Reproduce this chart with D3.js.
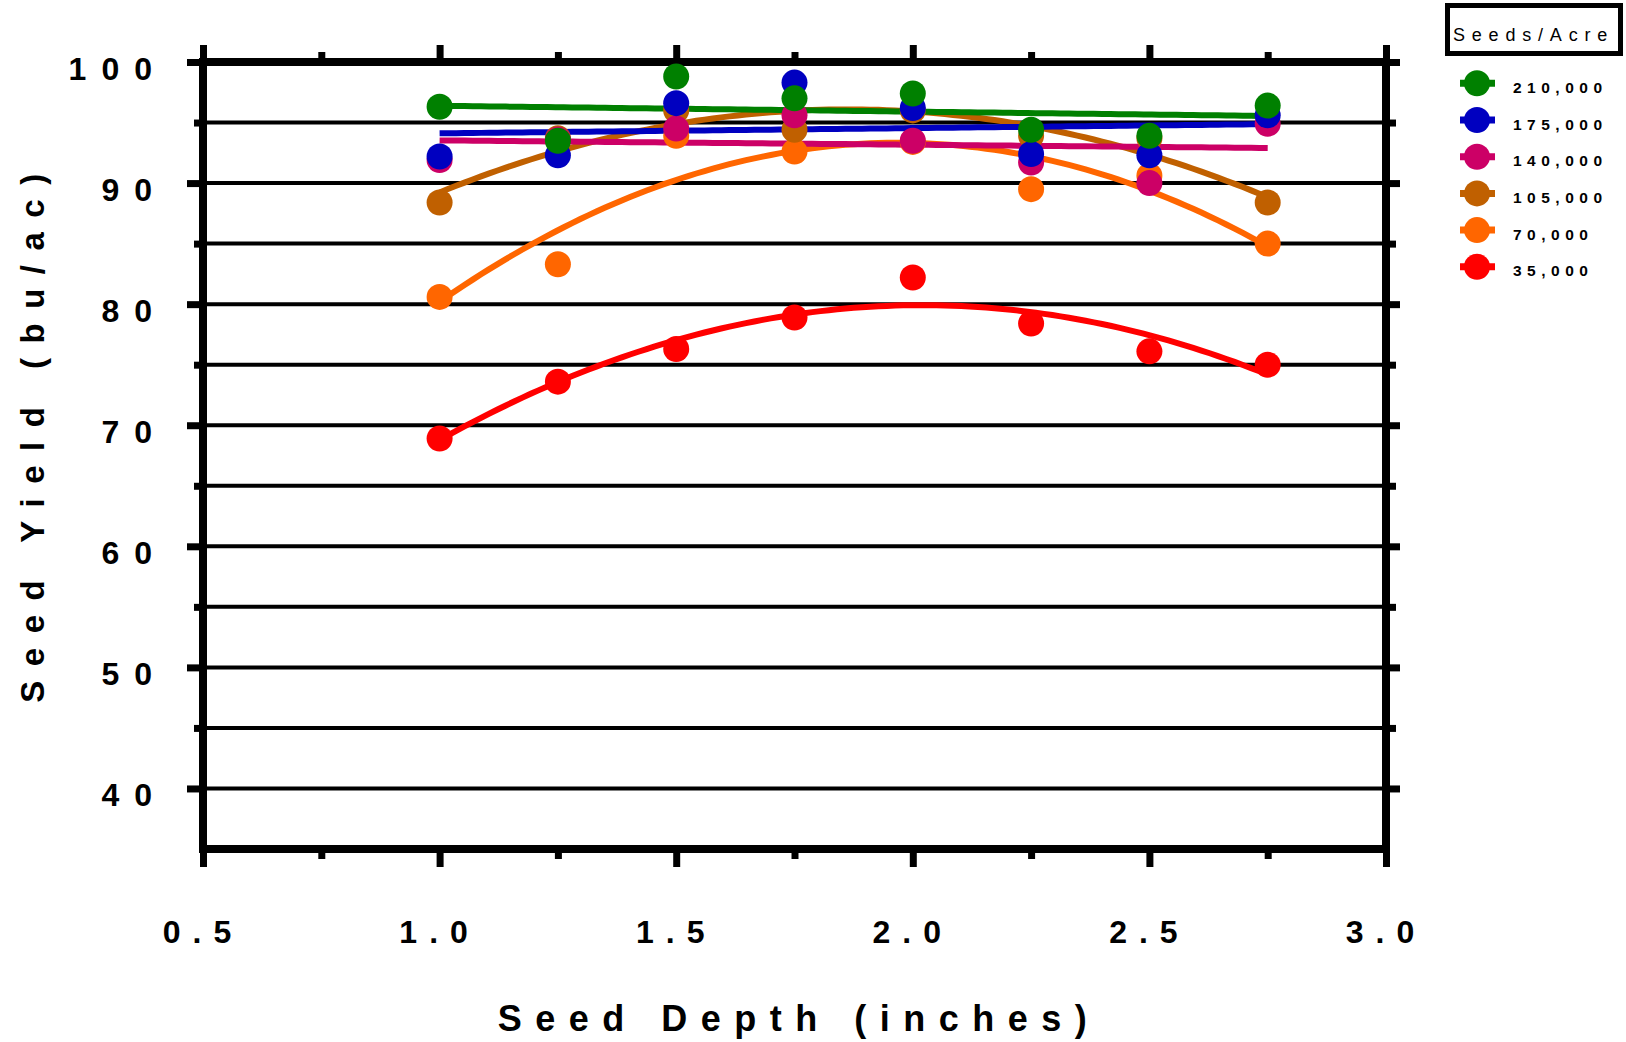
<!DOCTYPE html>
<html>
<head>
<meta charset="utf-8">
<script src="https://cdn.jsdelivr.net/npm/d3@7"></script>
<style>
  body { margin: 0; background: #fff; }
  text { font-family: "Liberation Sans", Arial, sans-serif; }
</style>
</head>
<body>
<div id="main_div"></div>
<script>
// ---- data ----
var depths = [1.0, 1.25, 1.5, 1.75, 2.0, 2.25, 2.5, 2.75];

var yield_210 = [96.3, 93.5, 98.8, 97.0, 97.4, 94.4, 93.9, 96.4];
var yield_175 = [92.2, 92.3, 96.6, 98.3, 96.2, 92.4, 92.3, 95.6];
var yield_140 = [91.9, 93.6, 94.5, 95.6, 93.5, 91.7, 90.0, 94.9];
var yield_105 = [88.4, 93.7, 96.0, 94.4, 96.0, 93.9, 93.7, 88.4];
var yield_70  = [80.6, 83.3, 93.9, 92.6, 93.4, 89.5, 90.6, 85.0];
var yield_35  = [68.9, 73.6, 76.3, 78.9, 82.2, 78.4, 76.1, 75.0];

var series_labels = ["210,000", "175,000", "140,000", "105,000", "70,000", "35,000"];
var series_colors = ["#008000", "#0000c0", "#cc0066", "#c06000", "#ff6600", "#ff0000"];
// degree of the fitted polynomial for each series
var fit_degree = [1, 1, 1, 2, 2, 2];

var x_ticks_major = [0.5, 1.0, 1.5, 2.0, 2.5, 3.0];
var x_ticks_minor = [0.75, 1.25, 1.75, 2.25, 2.75];
var y_ticks_major = [40, 50, 60, 70, 80, 90, 100];
var y_ticks_minor = [45, 55, 65, 75, 85, 95];
var grid_values   = [40, 45, 50, 55, 60, 65, 70, 75, 80, 85, 90, 95];

var WIDTH = 1626, HEIGHT = 1042;
var PLOT_LEFT = 203, PLOT_RIGHT = 1386, PLOT_TOP = 62, PLOT_BOTTOM = 849;
var AXIS_W = 8;

var series = [yield_210, yield_175, yield_140, yield_105, yield_70, yield_35]
  .map(function(vals, i) {
    return { label: series_labels[i], color: series_colors[i], degree: fit_degree[i], values: vals };
  });

// least squares polynomial fit (normal equations)
function polyFit(xs, ys, deg) {
  var n = deg + 1, A = [], b = [];
  for (var r = 0; r < n; r++) {
    A.push([]);
    for (var c = 0; c < n; c++) {
      A[r].push(d3.sum(xs, function(x) { return Math.pow(x, r + c); }));
    }
    b.push(d3.sum(xs, function(x, i) { return ys[i] * Math.pow(x, r); }));
  }
  // gaussian elimination
  for (var k = 0; k < n; k++) {
    for (var r2 = k + 1; r2 < n; r2++) {
      var f = A[r2][k] / A[k][k];
      for (var c2 = k; c2 < n; c2++) A[r2][c2] -= f * A[k][c2];
      b[r2] -= f * b[k];
    }
  }
  var coef = new Array(n);
  for (var k2 = n - 1; k2 >= 0; k2--) {
    var s = b[k2];
    for (var c3 = k2 + 1; c3 < n; c3++) s -= A[k2][c3] * coef[c3];
    coef[k2] = s / A[k2][k2];
  }
  return function(x) {
    return d3.sum(coef, function(cf, i) { return cf * Math.pow(x, i); });
  };
}

var svg = d3.select("#main_div").append("svg")
  .attr("width", WIDTH).attr("height", HEIGHT);

var x = d3.scaleLinear().domain([0.5, 3.0]).range([PLOT_LEFT, PLOT_RIGHT]);
var y = d3.scaleLinear().domain([35, 100]).range([PLOT_BOTTOM, PLOT_TOP]);

// Horizontal grid lines
svg.append("g").selectAll("line")
  .data(grid_values).enter()
  .append("line")
    .attr("x1", PLOT_LEFT).attr("x2", PLOT_RIGHT)
    .attr("y1", function(d) { return y(d); })
    .attr("y2", function(d) { return y(d); })
    .style("stroke", "#000").style("stroke-width", 4);

// Axes: minor and major ticks on all four sides
function styleAxis(g) {
  g.select(".domain").remove();
  g.selectAll(".tick line").style("stroke", "#000").style("stroke-width", 7);
  g.selectAll(".tick text").remove();
}

svg.append("g").attr("transform", "translate(0," + PLOT_BOTTOM + ")")
  .call(d3.axisBottom(x).tickValues(x_ticks_minor).tickSize(10)).call(styleAxis);
svg.append("g").attr("transform", "translate(0," + PLOT_BOTTOM + ")")
  .call(d3.axisBottom(x).tickValues(x_ticks_major).tickSize(18)).call(styleAxis);
svg.append("g").attr("transform", "translate(0," + PLOT_TOP + ")")
  .call(d3.axisTop(x).tickValues(x_ticks_minor).tickSize(10)).call(styleAxis);
svg.append("g").attr("transform", "translate(0," + PLOT_TOP + ")")
  .call(d3.axisTop(x).tickValues(x_ticks_major).tickSize(17)).call(styleAxis);
svg.append("g").attr("transform", "translate(" + PLOT_LEFT + ",0)")
  .call(d3.axisLeft(y).tickValues(y_ticks_minor).tickSize(9)).call(styleAxis);
svg.append("g").attr("transform", "translate(" + PLOT_LEFT + ",0)")
  .call(d3.axisLeft(y).tickValues(y_ticks_major).tickSize(16)).call(styleAxis);
svg.append("g").attr("transform", "translate(" + PLOT_RIGHT + ",0)")
  .call(d3.axisRight(y).tickValues(y_ticks_minor).tickSize(10)).call(styleAxis);
svg.append("g").attr("transform", "translate(" + PLOT_RIGHT + ",0)")
  .call(d3.axisRight(y).tickValues(y_ticks_major).tickSize(14)).call(styleAxis);

// Frame
svg.append("rect")
  .attr("x", PLOT_LEFT).attr("y", PLOT_TOP)
  .attr("width", PLOT_RIGHT - PLOT_LEFT).attr("height", PLOT_BOTTOM - PLOT_TOP)
  .style("fill", "none").style("stroke", "#000").style("stroke-width", AXIS_W);

// Tick labels
svg.append("g").selectAll("text")
  .data(y_ticks_major).enter()
  .append("text")
    .attr("x", 167)
    .attr("y", function(d) { return y(d) + 18; })
    .attr("text-anchor", "end")
    .style("font-size", "32px").style("font-weight", "bold")
    .style("letter-spacing", "15px")
    .text(function(d) { return d; });

svg.append("g").selectAll("text")
  .data(x_ticks_major).enter()
  .append("text")
    .attr("x", function(d) { return x(d); })
    .attr("y", 943)
    .attr("text-anchor", "middle")
    .style("font-size", "32px").style("font-weight", "bold")
    .style("letter-spacing", "12px")
    .text(function(d) { return d3.format(".1f")(d); });

// Axis titles
svg.append("text")
  .attr("x", 799).attr("y", 1031)
  .attr("text-anchor", "middle")
  .style("font-size", "36px").style("font-weight", "bold")
  .style("letter-spacing", "13.5px")
  .text("Seed Depth (inches)");

svg.append("text")
  .attr("transform", "translate(44,431) rotate(-90)")
  .attr("text-anchor", "middle")
  .style("font-size", "33px").style("font-weight", "bold")
  .style("letter-spacing", "14.5px")
  .text("Seed Yield (bu/ac)");

// Fitted curves (drawn first, under the points)
var line = d3.line()
  .x(function(d) { return x(d[0]); })
  .y(function(d) { return y(d[1]); });

var drawOrder = series.slice().reverse();
var x_samples = d3.range(0, 101).map(function(i) {
  return depths[0] + (depths[depths.length - 1] - depths[0]) * i / 100;
});

svg.append("g").selectAll("path")
  .data(drawOrder).enter()
  .append("path")
    .attr("d", function(s) {
      var f = polyFit(depths, s.values, s.degree);
      return line(x_samples.map(function(xv) { return [xv, f(xv)]; }));
    })
    .style("fill", "none")
    .style("stroke", function(s) { return s.color; })
    .style("stroke-width", 6);

// Points
drawOrder.forEach(function(s) {
  svg.append("g").selectAll("circle")
    .data(s.values).enter()
    .append("circle")
      .attr("cx", function(d, i) { return x(depths[i]); })
      .attr("cy", function(d) { return y(d); })
      .attr("r", 13)
      .style("fill", s.color);
});

// Legend
var legend = svg.append("g");
legend.append("rect")
  .attr("x", 1447.5).attr("y", 5.5).attr("width", 173).attr("height", 48)
  .style("fill", "#fff").style("stroke", "#000").style("stroke-width", 5);
legend.append("text")
  .attr("x", 1453).attr("y", 41)
  .style("font-size", "18px")
  .style("letter-spacing", "6.8px")
  .text("Seeds/Acre");

var items = legend.selectAll("g.item")
  .data(series).enter()
  .append("g")
    .attr("class", "item")
    .attr("transform", function(d, i) { return "translate(0," + (83.3 + i * 36.7) + ")"; });
items.append("line")
  .attr("x1", 1460).attr("x2", 1495)
  .style("stroke", function(d) { return d.color; })
  .style("stroke-width", 7);
items.append("circle")
  .attr("cx", 1477).attr("r", 13)
  .style("fill", function(d) { return d.color; });
items.append("text")
  .attr("x", 1513).attr("y", 9.5)
  .style("font-size", "15.5px").style("font-weight", "bold")
  .style("letter-spacing", "5.5px")
  .text(function(d) { return d.label; });
</script>
</body>
</html>
